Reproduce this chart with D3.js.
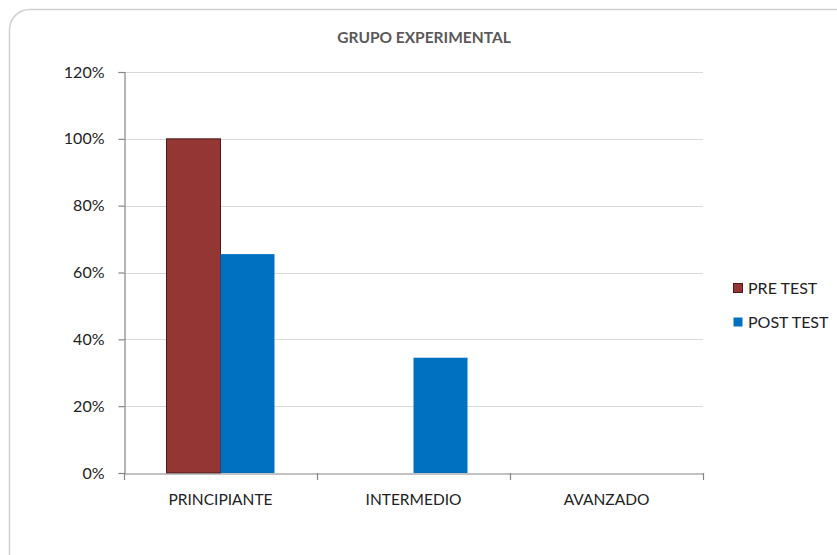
<!DOCTYPE html>
<html>
<head>
<meta charset="utf-8">
<script src="https://cdn.jsdelivr.net/npm/d3@7"></script>
<style>
  html, body { margin: 0; padding: 0; background: #fff; }
  svg { display: block; }
  text { font-family: Lato, "Open Sans", "Liberation Sans", sans-serif; }
</style>
</head>
<body>
<svg id="chart" width="837" height="555"></svg>
<script>
// Chart data
const categories = ["PRINCIPIANTE", "INTERMEDIO", "AVANZADO"];
const seriesNames = ["PRE TEST", "POST TEST"];
const preTest = [100, 0, 0];
const postTest = [65.5, 34.5, 0];
const yTicks = [0, 20, 40, 60, 80, 100, 120];
const chartTitle = "GRUPO EXPERIMENTAL";

const colors = { "PRE TEST": "#943634", "POST TEST": "#0070C0" };
const strokes = { "PRE TEST": "#4a1b1a", "POST TEST": "none" };

const svg = d3.select("#chart");

// Outer chart frame (extends past the visible canvas on right and bottom)
svg.append("rect")
  .attr("x", 9.5).attr("y", 9.5)
  .attr("width", 860).attr("height", 580)
  .attr("rx", 20).attr("ry", 20)
  .attr("fill", "#fff")
  .attr("stroke", "#d0d0d0").attr("stroke-width", 1.5);

const plot = { left: 124, right: 703, top: 72, bottom: 473 };

const x = d3.scaleBand().domain(categories)
  .range([plot.left, plot.right]).paddingInner(0).paddingOuter(0);
const y = d3.scaleLinear().domain([0, 120]).range([plot.bottom, plot.top]);

// Gridlines
svg.append("g").selectAll("line").data(yTicks.filter(t => t > 0)).join("line")
  .attr("x1", plot.left).attr("x2", plot.right)
  .attr("y1", d => Math.round(y(d)) + 0.5).attr("y2", d => Math.round(y(d)) + 0.5)
  .attr("stroke", "#d9d9d9").attr("stroke-width", 1.2);

// Bars
const rows = categories.map((c, i) => ({ cat: c, values: [
  { name: "PRE TEST", v: preTest[i] },
  { name: "POST TEST", v: postTest[i] }
]}));

const barW = 54;
const sub = d3.scaleBand().domain(seriesNames).range([0, barW * 2]);
const groupOffset = (x.bandwidth() - barW * 2) / 2;

svg.append("g").selectAll("g").data(rows).join("g")
  .attr("transform", d => `translate(${x(d.cat) + groupOffset},0)`)
  .selectAll("rect").data(d => d.values.filter(v => v.v > 0)).join("rect")
  .attr("x", d => sub(d.name))
  .attr("y", d => y(d.v))
  .attr("width", sub.bandwidth())
  .attr("height", d => y(0) - y(d.v))
  .attr("fill", d => colors[d.name])
  .attr("stroke", d => strokes[d.name])
  .attr("stroke-width", 1);

// Y axis
const yAxis = d3.axisLeft(y).tickValues(yTicks).tickFormat(d => d + "%").tickSize(6).tickPadding(14);
const gy = svg.append("g").attr("transform", `translate(${plot.left + 0.5},0)`).call(yAxis);
gy.select(".domain").attr("stroke", "#868686").attr("stroke-width", 1.2);
gy.selectAll(".tick line").attr("stroke", "#868686").attr("stroke-width", 1.2);
gy.selectAll(".tick text").attr("font-size", 16).attr("fill", "#222");

// X axis
const xAxis = d3.axisBottom(x).tickSize(0).tickPadding(20);
const gx = svg.append("g").attr("transform", `translate(0,${plot.bottom + 0.5})`).call(xAxis);
gx.select(".domain").attr("stroke", "#868686").attr("stroke-width", 1.2);
gx.selectAll(".tick text").attr("font-size", 15.5).attr("fill", "#222");
// Category boundary ticks
const bounds = categories.map(c => x(c)).concat([plot.right]);
svg.append("g").selectAll("line").data(bounds).join("line")
  .attr("x1", d => Math.round(d) + 0.5).attr("x2", d => Math.round(d) + 0.5)
  .attr("y1", plot.bottom).attr("y2", plot.bottom + 7)
  .attr("stroke", "#868686").attr("stroke-width", 1.2);

// Title
svg.append("text")
  .attr("x", 424).attr("y", 43)
  .attr("text-anchor", "middle")
  .attr("font-size", 15.5).attr("font-weight", "bold")
  .attr("fill", "#595959")
  .text(chartTitle);

// Legend
const legend = svg.append("g").attr("transform", "translate(733,283)");
legend.selectAll("g").data(seriesNames).join("g")
  .attr("transform", (d, i) => `translate(0,${i * 34})`)
  .each(function (d) {
    const g = d3.select(this);
    g.append("rect").attr("x", 0.5).attr("y", 0.5).attr("width", 9).attr("height", 9)
      .attr("fill", colors[d])
      .attr("stroke", strokes[d]).attr("stroke-width", 1);
    g.append("text").attr("x", 15).attr("y", 11)
      .attr("font-size", 16).attr("fill", "#222").text(d);
  });
</script>
</body>
</html>
